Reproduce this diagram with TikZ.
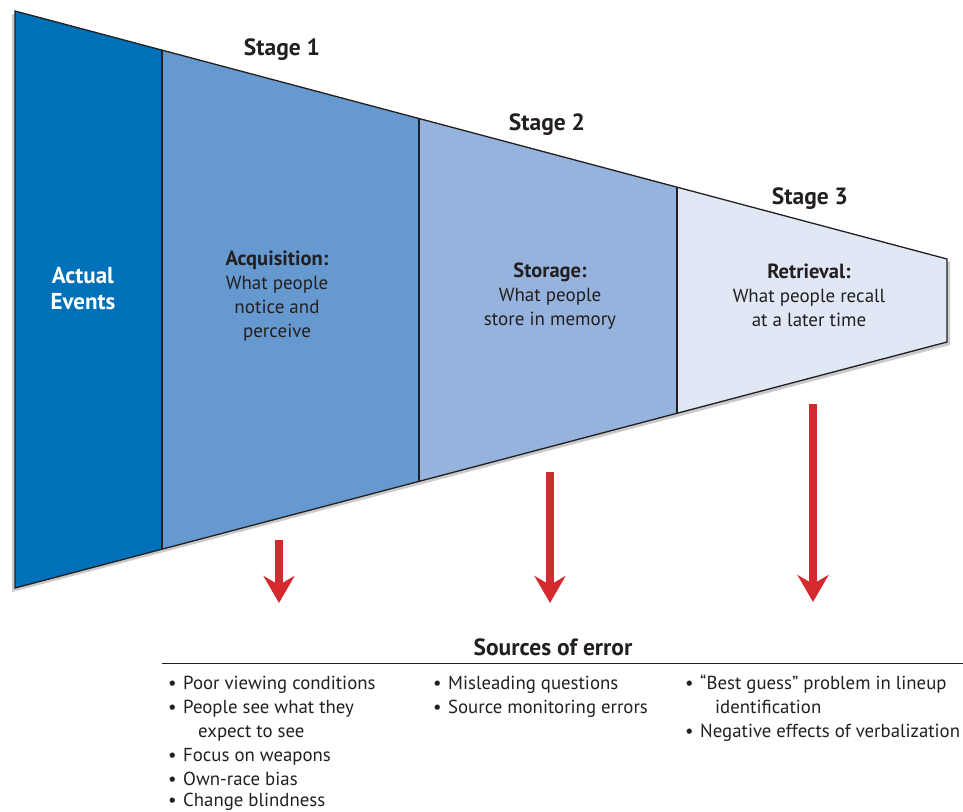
\documentclass[tikz,border=0pt]{standalone}
\usepackage{fontspec}
\setmainfont{PT Sans}
\usetikzlibrary{arrows.meta}
\definecolor{txt}{HTML}{231F20}
\definecolor{cA}{HTML}{0070B8}
\definecolor{cB}{HTML}{6699CF}
\definecolor{cC}{HTML}{95B3DD}
\definecolor{cD}{HTML}{E0E8F5}
\definecolor{arr}{HTML}{D42A2F}
\newcommand{\bh}[1]{{\bfseries\fontsize{20.5}{24}\selectfont #1}}
\newcommand{\bp}{\makebox[15pt][l]{•}}
\tikzset{
  seg/.style={draw=txt, line width=1.3pt, line join=miter},
  stagelbl/.style={font=\bfseries\fontsize{23.5}{26}\selectfont, text=txt},
  body/.style={font=\fontsize{19}{24}\selectfont, text=txt, align=center},
  bul/.style={font=\fontsize{18.8}{24}\selectfont, text=txt, anchor=base west, inner sep=0pt},
  errarrow/.style={arr, line width=8pt, -{Stealth[length=27pt, width=31pt, inset=9pt]}},
}
\begin{document}
\begin{tikzpicture}[x=1pt,y=-1pt]
\useasboundingbox (0,0) rectangle (963,811);
% shadow
\fill[black!35, opacity=0.6] (12,14) -- (950,262) -- (950,345) -- (12,592) -- cycle;
% segments
\fill[cA] (15,11) -- (162,50) -- (162,549) -- (15,588) -- cycle;
\fill[cB] (162,50) -- (419,118.5) -- (419,481) -- (162,549) -- cycle;
\fill[cC] (419,118.5) -- (677,187) -- (677,413) -- (419,481) -- cycle;
\fill[cD] (677,187) -- (947,259) -- (947,342) -- (677,413) -- cycle;
\draw[seg] (15,11) -- (947,259) -- (947,342) -- (15,588) -- cycle;
\draw[seg] (162,50) -- (162,549);
\draw[seg] (419,118.5) -- (419,481);
\draw[seg] (677,187) -- (677,413);
% stage labels
\node[stagelbl] (s1) at (282,50) {Stage 1};
\node[stagelbl] (s2) at (547,125) {Stage 2};
\node[stagelbl] (s3) at (810,199) {Stage 3};
% box texts
\node[font=\bfseries\fontsize{23}{26}\selectfont, text=white, align=center] (ae) at (83,289) {Actual\\Events};
\node[body] (acq) at (277,296) {\bh{Acquisition:}\\What people\\notice and\\perceive};
\node[body] (sto) at (550,296) {\bh{Storage:}\\What people\\store in memory};
\node[body] (ret) at (809,295) {\bh{Retrieval:}\\What people recall\\at a later time};
% arrows
\coordinate (a1s) at (279,540); \coordinate (a1e) at (279,603);
\coordinate (a2s) at (550,472); \coordinate (a2e) at (550,603);
\coordinate (a3s) at (813,404); \coordinate (a3e) at (813,602);
\draw[errarrow] (a1s) -- (a1e);
\draw[errarrow] (a2s) -- (a2e);
\draw[errarrow] (a3s) -- (a3e);
% sources of error
\node[stagelbl] (soe) at (553,647) {Sources of error};
\coordinate (r1) at (162,663); \coordinate (r2) at (963,663);
\draw[txt, line width=1pt] (r1) -- (r2);
% column 1
\node[bul] (c11) at (168,689) {\bp Poor viewing conditions};
\node[bul] (c12) at (168,713) {\bp People see what they};
\node[bul] (c13) at (198,737) {expect to see};
\node[bul] (c14) at (168,761) {\bp Focus on weapons};
\node[bul] (c15) at (168,785) {\bp Own-race bias};
\node[bul] (c16) at (168,806.5) {\bp Change blindness};
% column 2
\node[bul] (c21) at (433,689) {\bp Misleading questions};
\node[bul] (c22) at (433,713) {\bp Source monitoring errors};
% column 3
\node[bul] (c31) at (685,689) {\bp “Best guess” problem in lineup};
\node[bul] (c32) at (715,713) {identification};
\node[bul] (c33) at (685,737) {\bp Negative effects of verbalization};
\end{tikzpicture}
\end{document}
